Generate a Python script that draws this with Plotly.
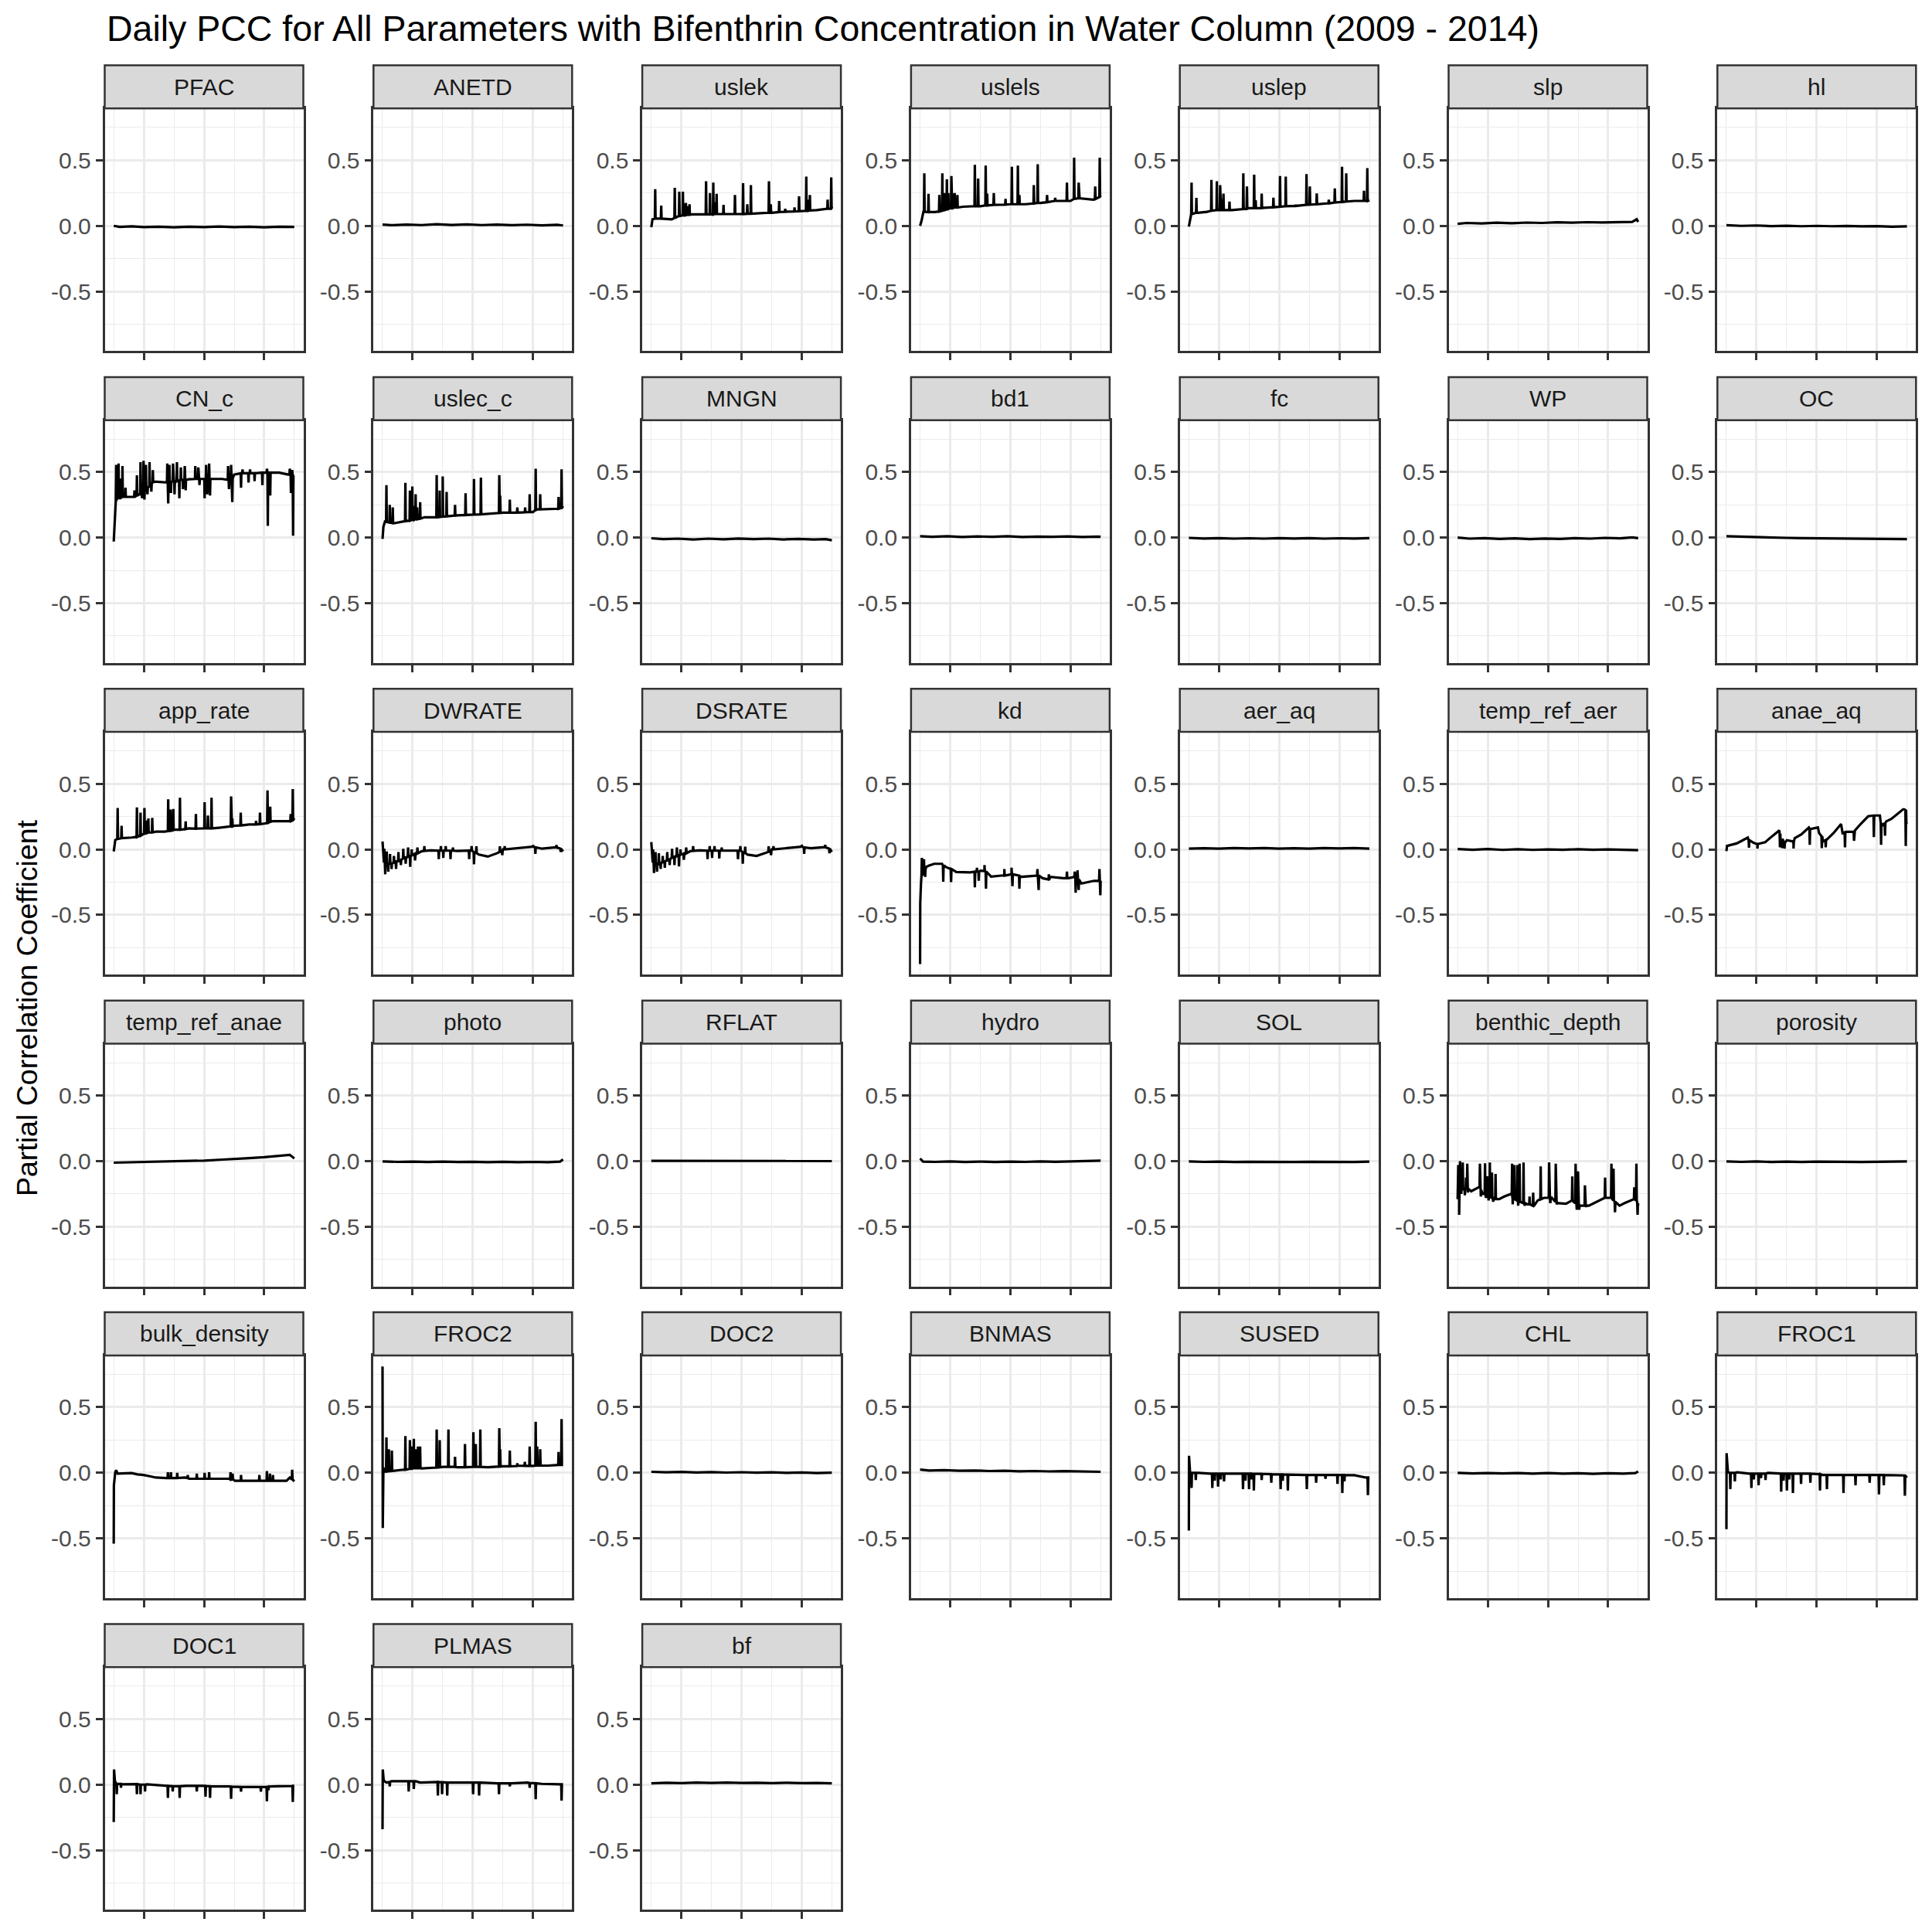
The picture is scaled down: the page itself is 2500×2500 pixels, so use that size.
import plotly.graph_objects as go

# ---------------- data (t = years since 2009-01-01, y = PCC) ----------------
# flat series: baseline points only
PFAC = [(0, 0.0), (0.2, -0.008), (0.6, -0.004), (1.0, -0.01), (1.5, -0.006), (2.0, -0.011), (2.5, -0.006),
        (3.0, -0.01), (3.5, -0.005), (4.0, -0.01), (4.5, -0.007), (5.0, -0.011), (5.5, -0.006), (6.0, -0.008)]
ANETD = [(0, 0.01), (0.3, 0.005), (0.8, 0.01), (1.3, 0.006), (1.8, 0.012), (2.3, 0.007), (2.8, 0.011),
         (3.3, 0.006), (3.8, 0.01), (4.3, 0.005), (4.8, 0.009), (5.3, 0.004), (5.8, 0.008), (6.0, 0.003)]
slp = [(0, 0.015), (0.3, 0.022), (0.8, 0.018), (1.3, 0.024), (1.8, 0.02), (2.3, 0.025), (2.8, 0.022),
       (3.3, 0.027), (3.8, 0.024), (4.3, 0.028), (4.8, 0.026), (5.3, 0.028), (5.8, 0.03), (5.95, 0.05), (6.0, 0.03)]
hl = [(0, 0.005), (0.5, 0.0), (1.0, 0.003), (1.5, -0.002), (2.0, 0.001), (2.5, -0.003), (3.0, 0.0),
      (3.5, -0.003), (4.0, -0.001), (4.5, -0.004), (5.0, -0.002), (5.5, -0.006), (6.0, -0.004)]
MNGN = [(0, -0.005), (0.4, -0.012), (0.9, -0.008), (1.4, -0.014), (1.9, -0.008), (2.4, -0.013), (2.9, -0.007),
        (3.4, -0.012), (3.9, -0.008), (4.4, -0.014), (4.9, -0.01), (5.4, -0.015), (5.8, -0.012), (6.0, -0.02)]
bd1 = [(0, 0.01), (0.4, 0.006), (0.9, 0.01), (1.4, 0.005), (1.9, 0.009), (2.4, 0.006), (2.9, 0.01),
       (3.4, 0.005), (3.9, 0.008), (4.4, 0.006), (4.9, 0.009), (5.4, 0.005), (5.9, 0.008), (6.0, 0.006)]
fc = [(0, -0.002), (0.5, -0.007), (1.0, -0.004), (1.5, -0.008), (2.0, -0.005), (2.5, -0.008), (3.0, -0.004),
      (3.5, -0.007), (4.0, -0.004), (4.5, -0.008), (5.0, -0.005), (5.5, -0.007), (6.0, -0.004)]
WP = [(0, 0.0), (0.4, -0.008), (0.9, -0.004), (1.4, -0.01), (1.9, -0.006), (2.4, -0.012), (2.9, -0.007),
      (3.4, -0.01), (3.9, -0.004), (4.4, -0.008), (4.9, -0.002), (5.4, -0.006), (5.8, 0.002), (6.0, -0.004)]
OC = [(0, 0.01), (0.5, 0.006), (1.0, 0.004), (1.5, 0.0), (2.0, -0.002), (2.5, -0.004), (3.0, -0.005),
      (3.5, -0.006), (4.0, -0.008), (4.5, -0.009), (5.0, -0.01), (5.5, -0.011), (6.0, -0.012)]
aer_aq = [(0, 0.006), (0.5, 0.009), (1.0, 0.006), (1.5, 0.01), (2.0, 0.007), (2.5, 0.01), (3.0, 0.006),
          (3.5, 0.009), (4.0, 0.006), (4.5, 0.01), (5.0, 0.007), (5.5, 0.01), (6.0, 0.006)]
temp_ref_aer = [(0, 0.002), (0.5, -0.003), (1.0, 0.002), (1.5, -0.004), (2.0, 0.001), (2.5, -0.004),
                (3.0, 0.0), (3.5, -0.003), (4.0, 0.001), (4.5, -0.003), (5.0, 0.0), (5.5, -0.004), (6.0, -0.006)]
temp_ref_anae = [(0, -0.012), (0.5, -0.01), (1.0, -0.008), (1.5, -0.003), (2.0, 0.0), (2.5, 0.002), (3.0, 0.004),
                 (3.5, 0.01), (4.0, 0.015), (4.5, 0.022), (5.0, 0.03), (5.5, 0.04), (5.85, 0.048), (5.95, 0.03),
                 (6.0, 0.02)]
photo = [(0, -0.002), (0.5, -0.006), (1.0, -0.004), (1.5, -0.007), (2.0, -0.004), (2.5, -0.007), (3.0, -0.005),
         (3.5, -0.008), (4.0, -0.005), (4.5, -0.008), (5.0, -0.006), (5.5, -0.008), (5.9, -0.004), (6.0, 0.012)]
RFLAT = [(0, 0.002), (1.0, 0.002), (2.0, 0.001), (3.0, 0.002), (4.0, 0.001), (5.0, 0.002), (6.0, 0.001)]
hydro = [(0, 0.02), (0.1, -0.004), (0.5, -0.006), (1.0, -0.003), (1.5, -0.007), (2.0, -0.004), (2.5, -0.007),
         (3.0, -0.004), (3.5, -0.006), (4.0, -0.002), (4.5, -0.005), (5.0, -0.001), (5.5, 0.002), (6.0, 0.004)]
SOL = [(0, -0.003), (0.5, -0.006), (1.0, -0.004), (1.5, -0.007), (2.0, -0.005), (2.5, -0.007), (3.0, -0.005),
       (3.5, -0.007), (4.0, -0.005), (4.5, -0.007), (5.0, -0.005), (5.5, -0.007), (6.0, -0.004)]
porosity = [(0, -0.002), (0.5, -0.006), (1.0, -0.003), (1.5, -0.007), (2.0, -0.004), (2.5, -0.007), (3.0, -0.004),
            (3.5, -0.006), (4.0, -0.004), (4.5, -0.007), (5.0, -0.005), (5.5, -0.006), (6.0, -0.003)]
DOC2 = [(0, 0.008), (0.5, 0.004), (1.0, 0.007), (1.5, 0.003), (2.0, 0.006), (2.5, 0.002), (3.0, 0.005),
        (3.5, 0.001), (4.0, 0.004), (4.5, 0.0), (5.0, 0.003), (5.5, -0.001), (6.0, 0.001)]
BNMAS = [(0, 0.025), (0.3, 0.018), (0.8, 0.02), (1.3, 0.016), (1.8, 0.018), (2.3, 0.014), (2.8, 0.016),
         (3.3, 0.012), (3.8, 0.014), (4.3, 0.011), (4.8, 0.013), (5.3, 0.01), (5.8, 0.011), (6.0, 0.008)]
CHL = [(0, 0.0), (0.5, -0.004), (1.0, -0.001), (1.5, -0.005), (2.0, -0.002), (2.5, -0.006), (3.0, -0.002),
       (3.5, -0.006), (4.0, -0.003), (4.5, -0.007), (5.0, -0.003), (5.5, -0.006), (5.9, -0.002), (6.0, 0.01)]
bf = [(0, 0.01), (0.5, 0.014), (1.0, 0.011), (1.5, 0.015), (2.0, 0.012), (2.5, 0.015), (3.0, 0.012),
      (3.5, 0.014), (4.0, 0.011), (4.5, 0.014), (5.0, 0.011), (5.5, 0.013), (6.0, 0.01)]

# spiky series: baseline points + spikes (t, base, tip)
uslek = [(0, -0.01), (0.04, 0.05), (0.3, 0.055), (0.68, 0.05), (0.9, 0.075), (1.35, 0.088), (1.8, 0.088),
         (2.5, 0.09), (3.0, 0.09), (3.5, 0.095), (4.0, 0.10), (4.5, 0.108), (5.0, 0.112), (5.5, 0.12),
         (5.9, 0.13), (6.0, 0.145)]
uslek_spk = [(0.13, 0.055, 0.28), (0.33, 0.055, 0.155), (0.78, 0.06, 0.29), (0.93, 0.075, 0.26), (1.05, 0.08, 0.26),
             (1.10, 0.08, 0.17), (1.15, 0.082, 0.175), (1.22, 0.085, 0.15), (1.27, 0.085, 0.165), (1.82, 0.088, 0.34),
             (1.95, 0.088, 0.25), (2.06, 0.088, 0.33), (2.10, 0.09, 0.18), (2.17, 0.09, 0.245), (2.40, 0.09, 0.16),
             (2.78, 0.09, 0.235), (3.05, 0.09, 0.325), (3.19, 0.092, 0.165), (3.31, 0.092, 0.31), (3.91, 0.10, 0.34),
             (3.97, 0.10, 0.165), (4.25, 0.105, 0.19), (4.45, 0.107, 0.13), (4.76, 0.11, 0.14), (4.91, 0.112, 0.225),
             (5.15, 0.115, 0.375), (5.20, 0.115, 0.20), (5.27, 0.117, 0.235), (5.86, 0.13, 0.2), (5.98, 0.13, 0.37)]
uslels = [(0, 0.0), (0.05, 0.04), (0.11, 0.107), (0.5, 0.105), (0.8, 0.12), (1.0, 0.135), (1.43, 0.146),
          (2.0, 0.15), (2.5, 0.16), (3.0, 0.165), (3.5, 0.165), (4.0, 0.175), (4.5, 0.19), (5.0, 0.19),
          (5.3, 0.21), (5.75, 0.20), (6.0, 0.23)]
uslels_spk = [(0.14, 0.107, 0.40), (0.28, 0.105, 0.245), (0.64, 0.11, 0.235), (0.74, 0.115, 0.40), (0.80, 0.12, 0.25),
              (0.89, 0.125, 0.355), (0.94, 0.13, 0.25), (1.04, 0.135, 0.38), (1.08, 0.135, 0.245), (1.15, 0.14, 0.25),
              (1.24, 0.14, 0.235), (1.82, 0.15, 0.465), (1.93, 0.15, 0.36), (2.18, 0.155, 0.46), (2.23, 0.155, 0.245),
              (2.45, 0.16, 0.25), (2.84, 0.162, 0.205), (3.05, 0.165, 0.45), (3.25, 0.165, 0.46), (3.30, 0.165, 0.235),
              (3.78, 0.17, 0.31), (3.91, 0.175, 0.47), (4.22, 0.18, 0.235), (4.49, 0.19, 0.214), (4.88, 0.19, 0.33),
              (5.12, 0.205, 0.52), (5.27, 0.21, 0.33), (5.82, 0.205, 0.30), (5.97, 0.22, 0.52)]
uslep = [(0, -0.006), (0.06, 0.088), (0.3, 0.10), (0.6, 0.107), (1.0, 0.12), (1.43, 0.12), (2.0, 0.135),
         (2.5, 0.138), (3.0, 0.146), (3.5, 0.152), (4.0, 0.162), (4.5, 0.17), (5.0, 0.18), (5.5, 0.19),
         (5.9, 0.19), (6.0, 0.195)]
uslep_spk = [(0.09, 0.09, 0.33), (0.25, 0.10, 0.214), (0.75, 0.115, 0.35), (0.93, 0.12, 0.34), (1.04, 0.12, 0.31),
             (1.08, 0.12, 0.204), (1.15, 0.12, 0.245), (1.35, 0.12, 0.185), (1.81, 0.128, 0.40), (1.93, 0.13, 0.30),
             (2.17, 0.135, 0.39), (2.22, 0.135, 0.195), (2.42, 0.136, 0.245), (2.81, 0.142, 0.214), (3.03, 0.146, 0.38),
             (3.22, 0.15, 0.375), (3.55, 0.152, 0.16), (3.91, 0.16, 0.395), (4.02, 0.162, 0.30), (4.25, 0.165, 0.247),
             (4.65, 0.172, 0.20), (4.85, 0.178, 0.286), (5.09, 0.182, 0.45), (5.23, 0.185, 0.40), (5.82, 0.19, 0.267),
             (5.93, 0.19, 0.44)]
CN_c = [(0, -0.03), (0.02, 0.10), (0.05, 0.22), (0.1, 0.30), (0.4, 0.31), (0.7, 0.31), (0.85, 0.33), (1.0, 0.36),
        (1.2, 0.40), (1.35, 0.427), (1.7, 0.42), (2.0, 0.43), (2.5, 0.445), (3.0, 0.447), (3.6, 0.447),
        (3.75, 0.44), (4.0, 0.48), (4.5, 0.49), (5.0, 0.495), (5.5, 0.495), (5.8, 0.48), (6.0, 0.47)]
CN_c_spk = [(0.08, 0.28, 0.555), (0.16, 0.30, 0.565), (0.21, 0.30, 0.45), (0.29, 0.31, 0.545), (0.39, 0.31, 0.38),
            (0.69, 0.31, 0.36), (0.77, 0.32, 0.475), (0.89, 0.33, 0.575), (0.94, 0.34, 0.30), (0.99, 0.35, 0.585),
            (1.02, 0.36, 0.29), (1.07, 0.37, 0.555), (1.12, 0.38, 0.33), (1.19, 0.39, 0.575), (1.25, 0.41, 0.35),
            (1.30, 0.42, 0.515), (1.78, 0.42, 0.565), (1.81, 0.42, 0.26), (1.85, 0.42, 0.555), (1.90, 0.425, 0.34),
            (1.97, 0.43, 0.565), (2.02, 0.43, 0.33), (2.10, 0.43, 0.575), (2.18, 0.435, 0.30), (2.23, 0.44, 0.535),
            (2.30, 0.44, 0.37), (2.36, 0.44, 0.545), (2.39, 0.44, 0.36), (2.71, 0.447, 0.545), (2.81, 0.447, 0.535),
            (2.85, 0.447, 0.40), (3.02, 0.447, 0.30), (3.07, 0.447, 0.555), (3.11, 0.447, 0.33), (3.17, 0.447, 0.565),
            (3.20, 0.447, 0.32), (3.80, 0.44, 0.545), (3.83, 0.44, 0.37), (3.90, 0.445, 0.555), (3.94, 0.45, 0.27),
            (4.23, 0.49, 0.38), (4.28, 0.49, 0.52), (4.48, 0.49, 0.42), (4.53, 0.49, 0.52), (4.68, 0.49, 0.43),
            (4.94, 0.495, 0.40), (5.09, 0.495, 0.525), (5.12, 0.495, 0.09), (5.20, 0.495, 0.32), (5.85, 0.48, 0.525),
            (5.89, 0.48, 0.34), (5.93, 0.48, 0.515), (5.96, 0.47, 0.014)]
uslec_c = [(0, -0.01), (0.03, 0.083), (0.08, 0.122), (0.4, 0.11), (0.7, 0.122), (1.0, 0.135), (1.4, 0.155),
           (2.0, 0.16), (2.5, 0.17), (3.0, 0.175), (3.5, 0.18), (4.0, 0.19), (4.5, 0.19), (5.0, 0.195),
           (5.15, 0.215), (5.75, 0.217), (5.92, 0.225), (6.0, 0.24)]
uslec_c_spk = [(0.13, 0.12, 0.40), (0.24, 0.115, 0.25), (0.34, 0.11, 0.23), (0.76, 0.125, 0.417), (0.91, 0.13, 0.358),
               (0.99, 0.135, 0.39), (1.04, 0.135, 0.24), (1.10, 0.14, 0.33), (1.15, 0.14, 0.23), (1.25, 0.145, 0.27),
               (1.80, 0.155, 0.476), (1.90, 0.157, 0.358), (2.00, 0.16, 0.466), (2.13, 0.162, 0.348),
               (2.41, 0.168, 0.25), (2.76, 0.172, 0.338), (3.04, 0.175, 0.447), (3.27, 0.177, 0.457),
               (3.88, 0.188, 0.476), (3.91, 0.188, 0.32), (4.23, 0.19, 0.29), (4.48, 0.19, 0.23), (4.74, 0.193, 0.23),
               (4.89, 0.195, 0.33), (5.09, 0.21, 0.525), (5.24, 0.215, 0.33), (5.85, 0.22, 0.31), (5.95, 0.225, 0.52)]
app_rate = [(0, -0.016), (0.02, 0.034), (0.05, 0.07), (0.2, 0.085), (0.6, 0.09), (0.9, 0.11), (1.2, 0.13),
            (1.4, 0.135), (1.7, 0.135), (2.0, 0.15), (2.5, 0.16), (3.0, 0.16), (3.5, 0.165), (4.0, 0.18),
            (4.5, 0.19), (5.0, 0.195), (5.3, 0.215), (5.8, 0.215), (6.0, 0.24)]
app_rate_spk = [(0.13, 0.08, 0.315), (0.26, 0.085, 0.18), (0.77, 0.095, 0.32), (0.89, 0.105, 0.28), (1.02, 0.12, 0.315),
                (1.10, 0.125, 0.22), (1.15, 0.128, 0.236), (1.28, 0.13, 0.24), (1.81, 0.14, 0.382), (1.89, 0.142, 0.303),
                (1.98, 0.145, 0.308), (2.20, 0.15, 0.393), (2.39, 0.155, 0.213), (2.73, 0.158, 0.27), (3.02, 0.16, 0.36),
                (3.13, 0.16, 0.258), (3.25, 0.16, 0.393), (3.90, 0.175, 0.404), (3.94, 0.175, 0.236),
                (4.22, 0.182, 0.28), (4.73, 0.19, 0.218), (4.86, 0.192, 0.28), (5.11, 0.20, 0.45), (5.20, 0.21, 0.326),
                (5.88, 0.215, 0.27), (5.95, 0.22, 0.46)]
DWRATE = [(0, 0.06), (0.03, -0.09), (0.1, -0.12), (0.3, -0.11), (0.5, -0.09), (0.7, -0.07), (0.9, -0.05),
          (1.1, -0.03), (1.3, -0.015), (1.6, -0.008), (2.0, -0.01), (2.5, -0.012), (2.9, -0.01), (3.2, -0.04),
          (3.5, -0.055), (3.8, -0.03), (4.0, 0.0), (4.3, 0.005), (4.8, 0.014), (5.0, 0.02), (5.3, 0.005),
          (5.7, 0.014), (5.85, 0.01), (6.0, -0.016)]
DWRATE_spk = [(0.06, -0.10, 0.004), (0.09, -0.11, -0.19), (0.14, -0.11, -0.016), (0.19, -0.11, -0.17),
              (0.25, -0.11, -0.035), (0.30, -0.11, -0.15), (0.38, -0.10, -0.05), (0.45, -0.095, -0.15),
              (0.53, -0.09, -0.02), (0.61, -0.08, -0.12), (0.69, -0.07, 0.004), (0.77, -0.06, -0.11),
              (0.85, -0.055, 0.014), (0.92, -0.05, -0.133), (0.97, -0.045, 0.0), (1.08, -0.035, -0.084),
              (1.16, -0.03, 0.014), (1.39, -0.012, 0.024), (1.87, -0.01, -0.075), (1.94, -0.01, 0.024),
              (2.02, -0.01, -0.065), (2.10, -0.01, 0.024), (2.26, -0.01, -0.075), (2.34, -0.01, 0.014),
              (2.88, -0.01, -0.075), (2.96, -0.01, 0.024), (3.04, -0.02, -0.114), (3.12, -0.03, 0.024),
              (3.90, -0.02, 0.024), (3.98, -0.01, -0.045), (4.06, 0.0, 0.024), (5.0, 0.02, 0.033),
              (5.08, 0.015, -0.035), (5.78, 0.014, 0.033), (5.92, 0.005, -0.02)]
DSRATE = [(0, 0.055), (0.03, -0.1), (0.1, -0.12), (0.3, -0.105), (0.5, -0.085), (0.7, -0.065), (0.9, -0.045),
          (1.1, -0.03), (1.3, -0.014), (1.6, -0.008), (2.0, -0.01), (2.5, -0.01), (2.9, -0.01), (3.2, -0.04),
          (3.5, -0.05), (3.8, -0.025), (4.0, 0.0), (4.3, 0.006), (4.8, 0.015), (5.0, 0.02), (5.3, 0.008),
          (5.7, 0.016), (5.85, 0.01), (6.0, -0.02)]
DSRATE_spk = [(0.06, -0.10, 0.0), (0.09, -0.11, -0.18), (0.14, -0.11, -0.02), (0.19, -0.11, -0.17),
              (0.25, -0.11, -0.03), (0.31, -0.105, -0.15), (0.38, -0.10, -0.05), (0.45, -0.09, -0.14),
              (0.53, -0.085, -0.02), (0.61, -0.075, -0.12), (0.69, -0.065, 0.004), (0.77, -0.055, -0.12),
              (0.85, -0.05, 0.014), (0.92, -0.045, -0.13), (0.97, -0.04, 0.0), (1.08, -0.033, -0.08),
              (1.16, -0.03, 0.014), (1.39, -0.012, 0.024), (1.87, -0.01, -0.075), (1.94, -0.01, 0.024),
              (2.02, -0.01, -0.065), (2.10, -0.01, 0.024), (2.26, -0.01, -0.07), (2.34, -0.01, 0.014),
              (2.88, -0.01, -0.075), (2.96, -0.01, 0.024), (3.04, -0.02, -0.11), (3.12, -0.03, 0.02),
              (3.90, -0.02, 0.024), (3.98, -0.01, -0.045), (4.06, 0.0, 0.024), (5.0, 0.02, 0.035),
              (5.08, 0.015, -0.035), (5.78, 0.016, 0.035), (5.92, 0.005, -0.03)]
kd = [(0, -0.875), (0.005, -0.41), (0.03, -0.26), (0.1, -0.15), (0.21, -0.133), (0.3, -0.124), (0.47, -0.11),
      (0.73, -0.11), (0.94, -0.143), (1.07, -0.153), (1.20, -0.173), (1.67, -0.176), (2.01, -0.163),
      (2.14, -0.16), (2.36, -0.208), (2.70, -0.20), (2.80, -0.18), (3.04, -0.18), (3.34, -0.21), (3.81, -0.20),
      (4.07, -0.22), (4.33, -0.21), (4.76, -0.22), (4.93, -0.22), (5.23, -0.22), (5.36, -0.26), (5.78, -0.24),
      (6.0, -0.24)]
kd_spk = [(0.06, -0.2, -0.065), (0.13, -0.2, -0.075), (0.17, -0.15, -0.21), (0.77, -0.12, -0.247),
          (0.81, -0.13, -0.12), (1.03, -0.15, -0.25), (1.82, -0.17, -0.29), (1.89, -0.17, -0.14),
          (1.95, -0.17, -0.24), (2.14, -0.165, -0.12), (2.19, -0.17, -0.30), (2.80, -0.2, -0.15),
          (3.04, -0.19, -0.14), (3.07, -0.19, -0.28), (3.30, -0.2, -0.30), (3.90, -0.2, -0.15), (3.94, -0.2, -0.31),
          (4.28, -0.23, -0.19), (4.88, -0.22, -0.17), (5.14, -0.21, -0.17), (5.17, -0.21, -0.33),
          (5.23, -0.22, -0.16), (5.27, -0.23, -0.31), (5.96, -0.24, -0.15), (5.99, -0.24, -0.35)]
anae_aq = [(0, -0.014), (0.02, 0.026), (0.17, 0.035), (0.34, 0.045), (0.51, 0.065), (0.71, 0.09), (0.75, 0.045),
           (0.9, 0.05), (1.03, 0.03), (1.11, 0.045), (1.29, 0.055), (1.54, 0.104), (1.76, 0.144), (1.80, 0.06),
           (1.93, 0.03), (2.01, 0.07), (2.23, 0.04), (2.27, 0.085), (2.49, 0.114), (2.74, 0.167), (2.79, 0.154),
           (3.04, 0.167), (3.08, 0.124), (3.21, 0.06), (3.34, 0.075), (3.56, 0.124), (3.81, 0.193), (3.86, 0.124),
           (3.98, 0.134), (4.16, 0.134), (4.27, 0.144), (4.46, 0.193), (4.71, 0.252), (4.88, 0.258), (4.94, 0.258),
           (5.10, 0.258), (5.18, 0.18), (5.31, 0.213), (5.48, 0.232), (5.87, 0.305), (5.91, 0.305), (5.98, 0.2),
           (6.0, 0.193)]
anae_aq_spk = [(0.75, 0.07, 0.012), (1.03, 0.04, 0.006), (1.78, 0.12, 0.016), (1.85, 0.08, 0.01), (1.93, 0.05, 0.006),
               (2.23, 0.06, 0.006), (2.77, 0.16, 0.035), (3.17, 0.1, 0.01), (3.30, 0.07, 0.016), (3.94, 0.13, 0.016),
               (4.24, 0.134, 0.065), (4.90, 0.258, 0.094), (5.14, 0.2, 0.035), (5.27, 0.2, 0.104), (5.96, 0.3, 0.026)]
benthic_depth = [(0, -0.29), (0.05, -0.2), (0.2, -0.22), (0.45, -0.23), (0.70, -0.20), (0.83, -0.25), (1.0, -0.26),
                 (1.2, -0.28), (1.38, -0.29), (1.55, -0.27), (1.77, -0.25), (2.0, -0.3), (2.32, -0.33), (2.54, -0.34),
                 (2.66, -0.30), (2.87, -0.28), (3.13, -0.28), (3.34, -0.32), (3.60, -0.325), (3.77, -0.30),
                 (3.85, -0.31), (4.11, -0.34), (4.36, -0.34), (4.70, -0.30), (4.87, -0.28), (5.04, -0.28),
                 (5.38, -0.34), (5.55, -0.32), (5.85, -0.29), (6.0, -0.34)]
benthic_depth_spk = [(0.02, -0.2, -0.03), (0.05, -0.2, -0.41), (0.08, -0.2, 0.0), (0.12, -0.2, -0.25),
                     (0.17, -0.2, -0.01), (0.24, -0.21, -0.26), (0.28, -0.21, -0.126), (0.32, -0.21, -0.02),
                     (0.34, -0.21, -0.24), (0.74, -0.2, -0.02), (0.77, -0.22, -0.27), (0.91, -0.25, -0.016),
                     (0.94, -0.26, -0.28), (0.98, -0.26, -0.116), (1.03, -0.27, -0.30), (1.07, -0.27, -0.01),
                     (1.14, -0.28, -0.087), (1.18, -0.28, -0.31), (1.26, -0.29, -0.097), (1.81, -0.26, -0.02),
                     (1.83, -0.28, -0.33), (1.88, -0.29, -0.03), (1.98, -0.30, -0.03), (2.01, -0.31, -0.34),
                     (2.06, -0.31, -0.02), (2.19, -0.32, -0.01), (2.23, -0.32, -0.34), (2.39, -0.33, -0.27),
                     (2.51, -0.34, -0.24), (2.76, -0.29, -0.04), (3.04, -0.28, -0.01), (3.08, -0.29, -0.32),
                     (3.26, -0.31, -0.02), (3.29, -0.32, -0.33), (3.81, -0.30, -0.116), (3.92, -0.32, -0.02),
                     (3.96, -0.33, -0.37), (4.00, -0.34, -0.078), (4.04, -0.34, -0.37), (4.23, -0.34, -0.184),
                     (4.27, -0.34, -0.35), (4.90, -0.28, -0.126), (5.11, -0.28, -0.02), (5.14, -0.29, -0.29),
                     (5.18, -0.30, -0.058), (5.23, -0.31, -0.39), (5.87, -0.29, -0.20), (5.94, -0.30, -0.02),
                     (5.98, -0.32, -0.41)]
bulk_density = [(0, -0.54), (0.005, -0.095), (0.05, 0.004), (0.08, 0.02), (0.13, -0.006), (0.39, -0.006),
                (0.59, -0.002), (0.79, -0.012), (0.99, -0.016), (1.20, -0.026), (1.40, -0.036), (1.75, -0.04),
                (2.0, -0.04), (2.36, -0.036), (2.5, -0.045), (2.81, -0.045), (3.3, -0.045), (3.83, -0.045),
                (4.03, -0.06), (4.63, -0.06), (4.89, -0.06), (5.39, -0.06), (5.74, -0.06), (5.85, -0.036),
                (6.0, -0.065)]
bulk_density_spk = [(1.80, -0.04, 0.004), (1.90, -0.04, 0.004), (2.11, -0.04, 0.0), (2.46, -0.04, -0.016),
                    (2.76, -0.045, -0.006), (3.02, -0.045, 0.0), (3.17, -0.045, 0.004), (3.88, -0.05, 0.004),
                    (3.95, -0.05, -0.006), (4.23, -0.06, -0.016), (4.84, -0.06, -0.016), (5.09, -0.06, 0.014),
                    (5.19, -0.06, -0.006), (5.29, -0.06, -0.016), (5.93, -0.05, 0.024)]
FROC2 = [(0, 0.81), (0.008, -0.42), (0.03, 0.04), (0.06, 0.01), (0.3, 0.015), (0.69, 0.024), (1.0, 0.035),
         (1.3, 0.034), (1.75, 0.04), (2.0, 0.045), (2.5, 0.043), (3.0, 0.045), (3.5, 0.043), (4.0, 0.05),
         (4.5, 0.055), (5.0, 0.053), (5.5, 0.055), (5.8, 0.06), (6.0, 0.06)]
FROC2_spk = [(0.13, 0.01, 0.27), (0.21, 0.012, 0.18), (0.31, 0.014, 0.17), (0.76, 0.024, 0.28), (0.91, 0.03, 0.25),
             (0.97, 0.03, 0.2), (1.04, 0.035, 0.26), (1.10, 0.035, 0.18), (1.18, 0.035, 0.2), (1.25, 0.035, 0.20),
             (1.80, 0.04, 0.33), (1.90, 0.042, 0.25), (2.19, 0.045, 0.33), (2.41, 0.045, 0.122), (2.74, 0.043, 0.22),
             (3.02, 0.045, 0.31), (3.10, 0.045, 0.22), (3.25, 0.045, 0.33), (3.88, 0.048, 0.34), (3.91, 0.048, 0.18),
             (4.23, 0.05, 0.17), (4.48, 0.052, 0.073), (4.73, 0.053, 0.083), (4.89, 0.053, 0.20), (5.09, 0.055, 0.39),
             (5.14, 0.055, 0.20), (5.24, 0.055, 0.18), (5.85, 0.06, 0.16), (5.95, 0.06, 0.41)]
SUSED = [(0, -0.44), (0.005, 0.13), (0.04, 0.004), (0.31, 0.0), (0.70, -0.006), (1.33, -0.006), (1.72, -0.006),
         (2.5, -0.008), (3.0, -0.012), (3.84, -0.016), (4.5, -0.016), (5.0, -0.016), (5.5, -0.018),
         (5.88, -0.036), (6.0, -0.036)]
SUSED_spk = [(0.09, 0.0, -0.115), (0.23, 0.0, -0.055), (0.78, -0.006, -0.115), (0.86, -0.006, -0.06),
             (0.97, -0.006, -0.105), (1.06, -0.006, -0.05), (1.17, -0.006, -0.065), (1.80, -0.006, -0.125),
             (1.88, -0.006, -0.06), (2.00, -0.006, -0.125), (2.08, -0.006, -0.05), (2.16, -0.008, -0.134),
             (2.42, -0.008, -0.055), (2.74, -0.01, -0.075), (3.05, -0.012, -0.125), (3.12, -0.012, -0.06),
             (3.29, -0.014, -0.134), (3.92, -0.016, -0.125), (4.23, -0.016, -0.075), (4.54, -0.016, -0.045),
             (4.94, -0.016, -0.085), (5.10, -0.016, -0.154), (5.17, -0.016, -0.065), (5.95, -0.036, -0.17)]
FROC1 = [(0, -0.43), (0.005, 0.15), (0.05, 0.004), (0.36, 0.004), (0.75, -0.006), (1.38, 0.0), (1.77, -0.006),
         (2.56, -0.006), (3.19, -0.016), (3.81, -0.016), (4.36, -0.016), (4.84, -0.016), (5.31, -0.016),
         (5.86, -0.016), (6.0, -0.036)]
FROC1_spk = [(0.13, 0.0, -0.125), (0.28, 0.0, -0.065), (0.83, -0.006, -0.115), (0.91, -0.006, -0.05),
             (1.07, -0.006, -0.095), (1.15, -0.006, -0.04), (1.30, -0.006, -0.055), (1.82, -0.006, -0.144),
             (1.90, -0.006, -0.06), (2.01, -0.006, -0.134), (2.09, -0.006, -0.05), (2.21, -0.006, -0.154),
             (2.48, -0.006, -0.085), (2.79, -0.006, -0.075), (3.11, -0.01, -0.134), (3.34, -0.016, -0.125),
             (3.89, -0.016, -0.154), (4.29, -0.016, -0.095), (4.76, -0.016, -0.075), (5.07, -0.016, -0.164),
             (5.23, -0.016, -0.095), (5.93, -0.02, -0.174)]
DOC1 = [(0, -0.285), (0.003, -0.14), (0.01, 0.115), (0.04, 0.026), (0.14, 0.006), (0.29, 0.002), (0.74, 0.006),
        (1.10, 0.002), (1.75, -0.01), (2.41, -0.01), (3.09, -0.01), (3.82, -0.014), (4.27, -0.018),
        (4.83, -0.018), (5.24, -0.014), (5.90, -0.01), (6.0, -0.01)]
DOC1_spk = [(0.10, 0.005, -0.073), (0.24, 0.004, -0.024), (0.77, 0.004, -0.073), (0.89, 0.0, -0.073),
            (1.04, 0.0, -0.053), (1.80, -0.01, -0.102), (1.96, -0.012, -0.053), (2.19, -0.012, -0.102),
            (2.76, -0.01, -0.053), (3.05, -0.01, -0.093), (3.20, -0.012, -0.102), (3.90, -0.015, -0.108),
            (4.23, -0.018, -0.053), (4.89, -0.018, -0.053), (5.09, -0.018, -0.128), (5.14, -0.016, -0.043),
            (5.95, -0.01, -0.132)]
PLMAS = [(0, -0.34), (0.003, -0.17), (0.008, 0.115), (0.04, 0.03), (0.13, 0.016), (0.29, 0.026), (0.79, 0.026),
         (1.10, 0.026), (1.25, 0.016), (1.80, 0.022), (2.20, 0.016), (2.81, 0.016), (3.25, 0.016), (3.82, 0.01),
         (4.28, 0.01), (4.83, 0.016), (5.29, 0.006), (5.90, 0.002), (6.0, 0.002)]
PLMAS_spk = [(0.24, 0.02, -0.014), (0.87, 0.026, -0.053), (1.04, 0.026, -0.033), (1.84, 0.02, -0.083),
             (1.98, 0.018, -0.073), (2.15, 0.016, -0.083), (3.01, 0.016, -0.073), (3.21, 0.016, -0.083),
             (3.87, 0.01, -0.073), (4.23, 0.01, -0.014), (4.89, 0.012, -0.024), (5.09, 0.01, -0.112),
             (5.95, 0.002, -0.122)]

PANEL_NAMES = ["PFAC", "ANETD", "uslek", "uslels", "uslep", "slp", "hl",
               "CN_c", "uslec_c", "MNGN", "bd1", "fc", "WP", "OC",
               "app_rate", "DWRATE", "DSRATE", "kd", "aer_aq", "temp_ref_aer", "anae_aq",
               "temp_ref_anae", "photo", "RFLAT", "hydro", "SOL", "benthic_depth", "porosity",
               "bulk_density", "FROC2", "DOC2", "BNMAS", "SUSED", "CHL", "FROC1",
               "DOC1", "PLMAS", "bf"]
BASES = [PFAC, ANETD, uslek, uslels, uslep, slp, hl,
         CN_c, uslec_c, MNGN, bd1, fc, WP, OC,
         app_rate, DWRATE, DSRATE, kd, aer_aq, temp_ref_aer, anae_aq,
         temp_ref_anae, photo, RFLAT, hydro, SOL, benthic_depth, porosity,
         bulk_density, FROC2, DOC2, BNMAS, SUSED, CHL, FROC1,
         DOC1, PLMAS, bf]
SPIKES = {"uslek": uslek_spk, "uslels": uslels_spk, "uslep": uslep_spk, "CN_c": CN_c_spk,
          "uslec_c": uslec_c_spk, "app_rate": app_rate_spk, "DWRATE": DWRATE_spk, "DSRATE": DSRATE_spk,
          "kd": kd_spk, "anae_aq": anae_aq_spk, "benthic_depth": benthic_depth_spk,
          "bulk_density": bulk_density_spk, "FROC2": FROC2_spk, "SUSED": SUSED_spk, "FROC1": FROC1_spk,
          "DOC1": DOC1_spk, "PLMAS": PLMAS_spk}

TITLE = "Daily PCC for All Parameters with Bifenthrin Concentration in Water Column (2009 - 2014)"
YTITLE = "Partial Correlation Coefficient"
Y_TICKS = [-0.5, 0.0, 0.5]
Y_TICKTEXT = ["-0.5", "0.0", "0.5"]
Y_MINOR = [-0.75, -0.25, 0.25, 0.75]
X_TICKS_DAYS = [365, 1095, 1826]          # 2010-01-01, 2012-01-01, 2014-01-01
X_MINOR_DAYS = [0, 730, 1461, 2191]        # 2009, 2011, 2013, 2015

# ---------------- layout geometry (pixels) ----------------
W = H = 2500
L0, DX, PW = 135.5, 347.8, 257.0
T0, DY, PH = 140.3, 403.4, 314.1
SH = 55.8
FONT = "Liberation Sans, Arial, sans-serif"
SPIKE_HALF = 0.012   # half width of spike drawing, years

fig = go.Figure()
layout = {}
shapes = []
annotations = []

for i, (name, base) in enumerate(zip(PANEL_NAMES, BASES)):
    r, c = divmod(i, 7)
    left = L0 + c * DX
    top = T0 + r * DY
    pts = list(base)
    for (t, b, tip) in SPIKES.get(name, []):
        pts += [(t - SPIKE_HALF, b), (t, tip), (t + SPIKE_HALF, b)]
    pts.sort(key=lambda p: p[0])
    xs = [p[0] * 365.0 for p in pts]
    ys = [p[1] for p in pts]
    sfx = "" if i == 0 else str(i + 1)
    fig.add_trace(go.Scatter(x=xs, y=ys, mode="lines", line=dict(color="black", width=3.2),
                             xaxis="x" + sfx, yaxis="y" + sfx, showlegend=False, hoverinfo="skip"))
    layout["xaxis" + sfx] = dict(
        domain=[left / W, (left + PW) / W], anchor="y" + sfx, range=[-109.5, 2299.5],
        tickmode="array", tickvals=X_TICKS_DAYS, ticktext=["", "", ""], ticks="outside",
        ticklen=9, tickwidth=2.5, tickcolor="#333333",
        showgrid=True, gridcolor="#EBEBEB", gridwidth=2.7, zeroline=False,
        showline=True, mirror=True, linecolor="#333333", linewidth=2.5,
        minor=dict(tickvals=X_MINOR_DAYS, showgrid=True, gridcolor="#EBEBEB", gridwidth=1.4, ticks=""),
        fixedrange=True)
    layout["yaxis" + sfx] = dict(
        domain=[1 - (top + PH) / H, 1 - top / H], anchor="x" + sfx, range=[-0.955, 0.895],
        tickmode="array", tickvals=Y_TICKS, ticktext=Y_TICKTEXT, ticks="outside",
        ticklen=9, tickwidth=2.5, tickcolor="#333333",
        tickfont=dict(family=FONT, size=30, color="#4D4D4D"),
        showgrid=True, gridcolor="#EBEBEB", gridwidth=2.7, zeroline=False,
        showline=True, mirror=True, linecolor="#333333", linewidth=2.5,
        minor=dict(tickvals=Y_MINOR, showgrid=True, gridcolor="#EBEBEB", gridwidth=1.4, ticks=""),
        fixedrange=True)
    shapes.append(dict(type="rect", xref="paper", yref="paper",
                       x0=left / W, x1=(left + PW) / W, y0=1 - top / H, y1=1 - (top - SH) / H,
                       fillcolor="#D9D9D9", line=dict(color="#333333", width=2.5), layer="above"))
    annotations.append(dict(text=name, xref="paper", yref="paper", x=(left + PW / 2) / W,
                            y=1 - (top - SH / 2) / H, xanchor="center", yanchor="middle", showarrow=False,
                            font=dict(family=FONT, size=30, color="#1A1A1A")))

annotations.append(dict(text=TITLE, xref="paper", yref="paper", x=L0 / W, y=1 - 37 / H,
                        xanchor="left", yanchor="middle", showarrow=False,
                        font=dict(family=FONT, size=46.5, color="black")))
annotations.append(dict(text=YTITLE, xref="paper", yref="paper", x=35 / W, y=1 - 1304 / H,
                        xanchor="center", yanchor="middle", showarrow=False, textangle=-90,
                        font=dict(family=FONT, size=37.5, color="black")))

fig.update_layout(width=W, height=H, margin=dict(l=0, r=0, t=0, b=0),
                  paper_bgcolor="white", plot_bgcolor="white",
                  shapes=shapes, annotations=annotations, **layout)
fig.write_html("out.html")
